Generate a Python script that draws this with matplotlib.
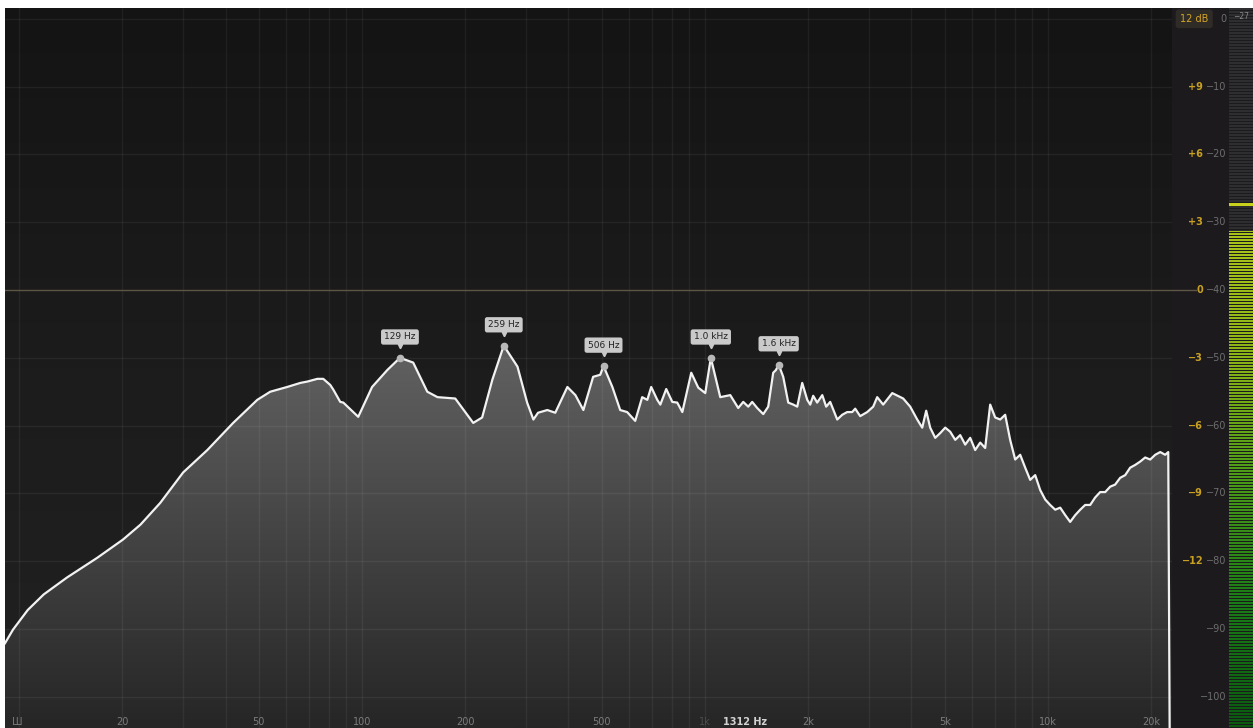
import numpy as np
import matplotlib
matplotlib.use('Agg')
import matplotlib.pyplot as plt
from matplotlib.colors import LinearSegmentedColormap, to_rgb
from matplotlib.patches import Polygon
from matplotlib.transforms import offset_copy

# spectrum: frequency (Hz) and level (dB)
freqs = [9.1, 9.6, 10.6, 11.8, 13.8, 16.9, 20.1, 22.6, 25.8, 30.1, 35.4, 42.1, 49.5,
         54.0, 60.5, 66.1, 69.3, 74.1, 77.1, 80.8, 82.5, 86.4, 88.2, 97.5, 107, 118.5,
         129, 141, 155, 166, 187, 211, 224, 240, 259, 284, 303, 316, 326, 347, 366,
         397, 419, 442, 472, 495, 506, 537, 566, 593, 626, 656, 679, 697, 726, 741,
         771, 803, 830, 859, 912, 956, 1002, 1040, 1108, 1185, 1250, 1293, 1337,
         1373, 1420, 1479, 1529, 1581, 1610, 1640, 1691, 1749, 1809, 1858, 1921,
         1987, 2027, 2068, 2124, 2198, 2256, 2318, 2430, 2513, 2598, 2687, 2742,
         2835, 2972, 3094, 3178, 3308, 3516, 3784, 3966, 4158, 4300, 4416, 4536,
         4692, 4852, 5018, 5188, 5366, 5548, 5738, 5934, 6136, 6346, 6562, 6786,
         7018, 7258, 7504, 7760, 8026, 8300, 8584, 8876, 9180, 9494, 9818, 10150,
         10500, 10860, 11230, 11610, 12010, 12420, 12840, 13280, 13730, 14200,
         14690, 15190, 15700, 16240, 16800, 17370, 17960, 18580, 19210, 19870,
         20550, 21250, 21970, 22430, 22720]
levels = [-92.1, -90.1, -87.2, -84.9, -82.4, -79.5, -76.8, -74.6, -71.4, -66.9, -63.6,
          -59.6, -56.2, -55.0, -54.3, -53.7, -53.5, -53.1, -53.1, -54.0, -54.7, -56.5,
          -56.6, -58.7, -54.3, -51.8, -50.0, -50.7, -55.0, -55.8, -56.0, -59.6, -58.8,
          -53.2, -48.2, -51.3, -56.6, -59.1, -58.1, -57.7, -58.1, -54.3, -55.5, -57.7,
          -52.8, -52.5, -51.2, -54.3, -57.7, -58.0, -59.3, -55.8, -56.2, -54.3, -56.2,
          -56.9, -54.6, -56.5, -56.6, -58.0, -52.2, -54.4, -55.2, -50.0, -55.8, -55.5,
          -57.4, -56.5, -57.2, -56.5, -57.4, -58.3, -57.2, -52.2, -51.8, -51.0, -52.8,
          -56.6, -56.9, -57.2, -53.7, -56.2, -56.9, -55.6, -56.6, -55.5, -57.2, -56.5,
          -59.1, -58.4, -58.0, -58.0, -57.5, -58.6, -58.0, -57.2, -55.8, -56.9, -55.2,
          -56.0, -57.2, -59.1, -60.3, -57.8, -60.3, -61.8, -61.1, -60.3, -60.9, -62.1,
          -61.4, -62.8, -61.8, -63.6, -62.5, -63.3, -56.9, -58.8, -59.1, -58.4, -62.1,
          -65.0, -64.3, -66.2, -68.0, -67.3, -69.5, -70.9, -71.7, -72.4, -72.1, -73.2,
          -74.2, -73.2, -72.4, -71.7, -71.7, -70.6, -69.8, -69.8, -69.0, -68.7, -67.7,
          -67.3, -66.2, -65.8, -65.3, -64.7, -65.0, -64.3, -63.9, -64.3, -63.9, -120.0]

# detected peaks
peak_freqs = [129, 259, 506, 1040, 1640]
peak_levels = [-50.0, -48.2, -51.2, -50.0, -51.0]

freq_ticks = [20, 50, 100, 200, 500, 1000, 2000, 5000, 10000, 20000]
freq_tick_labels = ['20', '50', '100', '200', '500', '1k', '2k', '5k', '10k', '20k']
grid_freqs = [10, 20, 30, 40, 50, 60, 70, 80, 90, 100, 200, 300, 400, 500, 600, 700,
              800, 900, 1000, 2000, 3000, 4000, 5000, 6000, 7000, 8000, 9000, 10000,
              20000]
db_ticks = [0, -10, -20, -30, -40, -50, -60, -70, -80, -90, -100]
db_tick_labels = ['0', '−10', '−20', '−30', '−40', '−50', '−60', '−70', '−80', '−90', '−100']
gain_ticks = [-10, -20, -30, -40, -50, -60, -70, -80]
gain_tick_labels = ['+9', '+6', '+3', '0', '−3', '−6', '−9', '−12']
cursor_freq = 1312
meter_level = -31.3
meter_peak = -27.4

x_range = (9.1, 23000)
y_range = (-104.6, 1.6)

W, H = 1253, 728
fig = plt.figure(figsize=(W / 100, H / 100), dpi=100, facecolor='white')
plt.rcParams['font.family'] = ['DejaVu Sans']

top = (H - 8) / H
ax = fig.add_axes([5 / W, 0, (1172 - 5) / W, top])
ax_lab = fig.add_axes([1172 / W, 0, (1229 - 1172) / W, top])
ax_met = fig.add_axes([1229 / W, 0, (W - 1229) / W, top])

# ---- analyzer ----
ax.set_xscale('log')
ax.set_xlim(*x_range)
ax.set_ylim(*y_range)
ext = [x_range[0], x_range[1], y_range[0], y_range[1]]

bg_cmap = LinearSegmentedColormap.from_list('bg', ['#212121', '#1c1c1c', '#141414'])
ax.imshow(np.linspace(0, 1, 256).reshape(-1, 1), cmap=bg_cmap, extent=ext,
          origin='lower', aspect='auto', zorder=0)

# grey fill under the curve, lighter towards the top
fill_cmap = LinearSegmentedColormap.from_list('fill', ['#262626', '#969696'])
grad = ax.imshow(np.linspace(0, 1, 256).reshape(-1, 1), cmap=fill_cmap, extent=ext,
                 origin='lower', aspect='auto', zorder=1)
verts = list(zip(freqs, levels)) + [(freqs[-1], -130), (freqs[0], -130)]
poly = Polygon(verts, closed=True, facecolor='none', edgecolor='none')
ax.add_patch(poly)
grad.set_clip_path(poly)

for f in grid_freqs:
    ax.axvline(f, color='white', alpha=0.055, lw=1, zorder=2)
for d in db_ticks:
    if d == -40:
        ax.axhline(d, color='#5e5645', lw=1, zorder=2)
    else:
        ax.axhline(d, color='white', alpha=0.06, lw=1, zorder=2)

ax.plot(freqs, levels, color='#f2f2f2', lw=1.6, solid_joinstyle='round', zorder=4)

# peak markers and labels
for f, lv in zip(peak_freqs, peak_levels):
    ax.plot(f, lv, 'o', ms=4.5, color='#b8b8b8', mec='#b8b8b8', zorder=5)
    tri = offset_copy(ax.transData, fig=fig, x=0, y=12, units='dots')
    ax.plot(f, lv, 'v', ms=3.2, color='#cacaca', transform=tri, zorder=5)
    txt = f'{f} Hz' if f < 1000 else f'{f / 1000:.1f} kHz'
    ax.annotate(txt, (f, lv), xytext=(0, 15), textcoords='offset points',
                ha='center', va='center', fontsize=6.5, color='#222222', zorder=6,
                bbox=dict(boxstyle='round,pad=0.35,rounding_size=0.25',
                          fc='#cacaca', ec='none'))

# frequency labels along the bottom
for f, s in zip(freq_ticks, freq_tick_labels):
    col = '#4c4c4c' if s == '1k' else '#7c7c7c'
    ax.text(f, 0.009, s, transform=ax.get_xaxis_transform(), ha='center',
            va='center', fontsize=7, color=col, zorder=6)
ax.text(cursor_freq, 0.009, f'{cursor_freq} Hz', transform=ax.get_xaxis_transform(),
        ha='center', va='center', fontsize=7, color='#d2d2d2', fontweight='bold', zorder=6)
ax.text(0.006, 0.009, 'Ш', transform=ax.transAxes, ha='left', va='center',
        fontsize=7, color='#7c7c7c', zorder=6)

ax.set_xticks([])
ax.set_yticks([])
ax.minorticks_off()
for sp in ax.spines.values():
    sp.set_visible(False)

# ---- scale labels ----
ax_lab.set_facecolor('#1c1a1d')
ax_lab.set_xlim(0, 1)
ax_lab.set_ylim(*y_range)
ax_lab.axhline(-40, xmax=0.42, color='#5e5645', lw=1)
for d, s in zip(gain_ticks, gain_tick_labels):
    ax_lab.text(0.55, d, s, ha='right', va='center', fontsize=7, color='#c8a021',
                fontweight='bold')
for d, s in zip(db_ticks, db_tick_labels):
    ax_lab.text(0.96, d, s, ha='right', va='center', fontsize=7, color='#6e6e6e')
ax_lab.text(0.39, 0.0, '12 dB', ha='center', va='center', fontsize=7, color='#d6a522',
            bbox=dict(boxstyle='round,pad=0.45,rounding_size=0.3', fc='#2f2b27', ec='none'))
ax_lab.set_xticks([])
ax_lab.set_yticks([])
for sp in ax_lab.spines.values():
    sp.set_visible(False)

# ---- level meter ----
rows = 720
dbs = np.linspace(y_range[1], y_range[0], rows)
lit_cmap = LinearSegmentedColormap.from_list(
    'lit', ['#0a5a10', '#1a7c16', '#4a9a18', '#8cb416', '#aac41a'])
img = np.zeros((rows, 1, 3))
for i, d in enumerate(dbs):
    on = (i % 3) != 2
    if abs(d - meter_peak) < 0.22:
        c = to_rgb('#c8d21c')
    elif not on:
        c = to_rgb('#1b1b1d')
    elif d <= meter_level:
        c = lit_cmap((d - y_range[0]) / (meter_level - y_range[0]))[:3]
    else:
        c = to_rgb('#2e2e31')
    img[i, 0] = c
ax_met.imshow(img, extent=[0, 1, y_range[0], y_range[1]], aspect='auto',
              interpolation='nearest')
ax_met.set_xlim(0, 1)
ax_met.set_ylim(*y_range)
ax_met.text(0.5, 0.995, '−27', transform=ax_met.transAxes, ha='center', va='top',
            fontsize=5.5, color='#8a8a8a')
ax_met.set_xticks([])
ax_met.set_yticks([])
for sp in ax_met.spines.values():
    sp.set_visible(False)

fig.savefig('out.png', dpi=100, facecolor='white')
